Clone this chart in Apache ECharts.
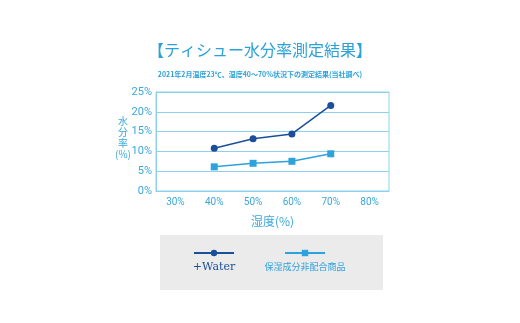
<!DOCTYPE html>
<html><head><meta charset="utf-8">
<script src="https://cdn.jsdelivr.net/npm/echarts@6/dist/echarts.min.js"></script>
<style>html,body{margin:0;padding:0;background:#fff}#c{width:520px;height:323px}</style>
</head><body><div id="c"></div>
<script>
const categories = ['30%','40%','50%','60%','70%','80%'];
const seriesNames = ['+Water','保湿成分非配合商品'];
const waterValues = [null, 10.8, 13.2, 14.4, 21.6];
const plainValues = [null, 6.1, 7.0, 7.5, 9.4];
const yTicks = [0,5,10,15,20,25];

const C1 = '#1b4f9a', C2 = '#2ea2dd', TXT = '#3aa7dc', GRID = '#8fd0ec';
const chart = echarts.init(document.getElementById('c'));
chart.setOption({
  animation:false,
  backgroundColor:'#fff',
  title:[
    {text:'【ティシュー水分率測定結果】',left:'center',top:37,textStyle:{color:'#2ba1da',fontSize:16,fontWeight:'normal',fontFamily:'Noto Sans CJK JP'}},
    {text:'2021年2月温度23℃、湿度40～70%状況下の測定結果(当社調べ)',left:'center',top:66,textStyle:{color:'#2ba1da',fontSize:7,fontWeight:'bold',fontFamily:'Noto Sans CJK JP'}}
  ],
  grid:{left:156,right:131,top:92,bottom:132,show:true,borderColor:GRID,borderWidth:1},
  xAxis:{type:'category',data:categories,boundaryGap:true,
    name:'湿度(%)',nameLocation:'middle',nameGap:24,nameTextStyle:{color:TXT,fontSize:12,fontFamily:'Noto Sans CJK JP'},
    axisLine:{lineStyle:{color:GRID}},axisTick:{inside:true,alignWithLabel:true,length:3,lineStyle:{color:GRID}},
    axisLabel:{color:TXT,fontSize:10,margin:6,fontFamily:'Roboto'},splitLine:{show:false}},
  yAxis:{type:'value',min:yTicks[0],max:yTicks[yTicks.length-1],interval:5,
    axisLine:{show:true,lineStyle:{color:GRID}},axisTick:{show:false},
    axisLabel:{color:TXT,fontSize:11,margin:4,formatter:'{value}%',fontFamily:'Roboto'},
    splitLine:{lineStyle:{color:GRID,width:1}}},
  legend:[
    {data:[seriesNames[0]],left:193,top:249,itemWidth:40,itemHeight:8,formatter:()=>'',itemGap:0,padding:0},
    {data:[seriesNames[1]],left:284,top:249,itemWidth:40,itemHeight:8,formatter:()=>'',itemGap:0,padding:0}
  ],
  graphic:[
    {type:'rect',z:-1,shape:{x:160,y:235,width:223,height:55},style:{fill:'#ebebeb'}},
    {type:'text',left:'auto',x:214,y:262,style:{text:seriesNames[0],fill:C1,font:'11px "DejaVu Serif"',align:'center'}},
    {type:'text',x:305,y:262,style:{text:seriesNames[1],fill:C2,font:'9px "Noto Sans CJK JP"',align:'center'}},
    {type:'text',x:123,y:116,style:{text:'水\n分\n率\n(%)',fill:TXT,font:'10px "Noto Sans CJK JP"',align:'center',lineHeight:11}}
  ],
  series:[
    {name:seriesNames[0],type:'line',data:waterValues,symbol:'circle',symbolSize:7,color:C1,lineStyle:{width:1.5,color:C1},itemStyle:{color:C1}},
    {name:seriesNames[1],type:'line',data:plainValues,symbol:'rect',symbolSize:7,color:C2,lineStyle:{width:1.5,color:C2},itemStyle:{color:C2}}
  ]
});
</script></body></html>
